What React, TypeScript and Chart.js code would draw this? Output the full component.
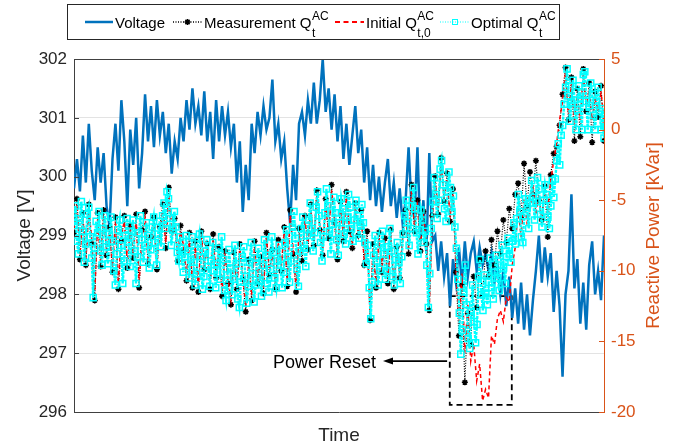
import React, { useEffect, useRef } from 'react';
import { Chart, registerables } from 'chart.js';

Chart.register(...registerables);

const FONT = '"Liberation Sans", Arial, Helvetica, sans-serif';

// Voltage [V] samples (evenly spaced in time)
const voltage = [
  299.8, 300.3, 299.75, 300.7, 299.9, 300.9, 300.1, 299.6, 300.5, 299.9,
  300.4, 299.5, 299.15, 300.3, 300.9, 300.1, 301.3, 300.6, 299.5, 300.8,
  300.2, 301.0, 299.8, 300.4, 301.4, 300.6, 301.2, 300.5, 301.3, 300.7,
  301.1, 300.4, 300.9, 300.05, 300.6, 300.3, 301.0, 300.6, 301.3, 300.8,
  301.5, 300.9, 301.2, 300.7, 301.45, 300.6, 301.1, 300.3, 301.3, 300.6,
  301.2, 300.7, 301.1, 300.5, 300.9, 299.9, 300.6, 299.4, 300.2, 299.6,
  300.9, 300.4, 301.1, 300.7, 301.2, 300.8, 301.0, 301.65, 300.6, 300.9,
  300.3, 300.6, 299.8, 299.2, 300.2, 299.6, 300.9, 301.1, 300.7, 301.3,
  300.9, 301.6, 300.9, 301.3, 302.0, 301.1, 301.5, 300.8, 301.4, 300.6,
  301.2, 300.3, 300.9, 300.2, 300.7, 301.2, 300.4, 300.8, 299.9, 300.5,
  299.6, 300.2, 299.5, 300.0, 299.4, 299.9, 300.3, 299.5, 299.9, 299.3,
  299.8, 299.2, 299.6, 300.5, 299.5, 299.3, 300.5, 298.9, 299.6, 298.7,
  300.4, 298.9, 299.0, 298.4, 298.9, 298.3, 298.7, 297.8, 298.6, 298.2,
  298.8, 298.2, 298.9, 298.3, 298.7, 298.9, 298.4, 298.8, 298.5, 298.7,
  298.4, 298.7, 298.2, 298.5, 298.0, 298.4, 297.8, 298.3, 297.6, 298.1,
  297.5, 298.2, 297.4, 298.0, 297.3, 297.9, 298.4, 299.0, 298.2, 298.8,
  298.3, 298.7, 297.7, 298.4, 297.8, 296.6, 298.0, 298.4, 299.7, 298.1,
  298.6, 297.5, 298.2, 297.4, 298.5, 298.9, 298.0, 298.4, 297.9, 299.0,
];

// Measurement Q_t^AC [kVar]
const measQ = [
  -7.3, -4.9, -9.2, -5.9, -9.6, -5.3, -8.1, -12.1, -5.9, -9.7,
  -5.7, -8.9, -6.9, -10.1, -6.2, -11.3, -7.9, -6.1, -9.8, -6.8,
  -9.1, -6.0, -11.2, -7.1, -5.8, -9.5, -7.6, -6.2, -9.9, -6.9,
  -5.3, -8.4, -4.1, -7.2, -6.3, -9.3, -6.8, -8.6, -10.7, -7.3,
  -11.2, -7.9, -11.5, -7.2, -9.9, -8.1, -11.3, -7.4, -10.5, -8.3,
  -11.8, -8.6, -10.9, -12.4, -8.7, -11.3, -8.1, -10.6, -12.9, -9.2,
  -12.1, -7.9, -10.9, -9.0, -11.6, -7.3, -10.3, -8.5, -11.3, -7.8,
  -10.0, -6.9, -11.1, -5.7, -8.8, -11.5, -7.0, -9.3, -6.1, -8.5,
  -5.3, -8.2, -4.3, -7.1, -8.9, -4.9, -7.7, -3.9, -6.6, -9.2,
  -5.1, -7.9, -4.4, -7.2, -8.4, -5.2, -7.5, -5.7, -9.6, -7.2,
  -13.5, -8.1, -11.2, -7.3, -10.1, -7.7, -10.9, -7.1, -11.3, -8.3,
  -10.5, -7.3, -5.7, -8.8, -3.9, -7.2, -5.0, -8.6, -5.8, -8.1,
  -12.8, -6.1, -3.3, -6.0, -2.0, -5.1, -3.1, -6.5, -4.2, -10.1,
  -14.6, -11.0, -17.9, -13.0, -15.2, -10.4, -12.6, -9.2, -11.8, -8.6,
  -10.4, -7.8, -9.6, -7.2, -8.8, -6.4, -8.0, -5.6, -7.0, -4.6,
  -3.8, -6.2, -2.4, -5.4, -3.0, -4.6, -2.2, -5.0, -6.4, -4.0,
  -7.6, -3.2, -1.7, -1.2, 0.3, 2.5, 4.4, 0.7, 3.7, -0.8,
  2.9, -0.5, 4.3, 1.3, 3.3, -0.9, 2.7, 0.9, 3.1, -0.8,
];

// Initial Q_{t,0}^AC [kVar]
const initQ = [
  -7.1, -5.3, -8.8, -6.2, -9.2, -5.7, -7.7, -11.7, -6.3, -9.3,
  -6.1, -8.5, -7.3, -9.7, -6.6, -10.9, -7.5, -6.5, -9.4, -7.1,
  -8.7, -6.4, -10.8, -7.5, -6.2, -9.1, -8.0, -6.6, -9.5, -7.3,
  -5.7, -8.0, -4.5, -7.6, -6.7, -8.9, -7.2, -8.2, -10.3, -7.7,
  -10.8, -8.3, -11.1, -7.6, -9.5, -8.5, -10.9, -7.8, -10.1, -8.7,
  -11.4, -9.0, -10.5, -12.0, -9.1, -10.9, -8.5, -10.2, -12.5, -9.6,
  -11.7, -8.3, -10.5, -9.4, -11.2, -7.7, -9.9, -8.9, -10.9, -8.2,
  -9.6, -7.3, -10.7, -6.1, -8.4, -11.1, -7.4, -8.9, -6.5, -8.1,
  -5.7, -7.8, -4.7, -6.7, -8.5, -5.3, -7.3, -4.3, -6.4, -8.8,
  -5.5, -7.5, -4.8, -6.8, -8.0, -5.6, -7.1, -6.1, -9.2, -7.6,
  -13.1, -8.5, -10.8, -7.7, -9.7, -8.1, -10.5, -7.5, -10.9, -8.7,
  -10.1, -7.7, -6.1, -8.4, -4.3, -6.8, -5.4, -8.2, -6.2, -7.7,
  -12.4, -6.5, -3.7, -5.6, -2.4, -4.7, -3.5, -6.1, -4.6, -9.7,
  -13.6, -10.2, -15.8, -12.4, -16.4, -15.2, -17.8, -16.6, -19.2, -18.4,
  -19.0, -14.6, -15.2, -13.4, -12.8, -13.6, -11.9, -12.2, -9.6, -8.4,
  -5.6, -7.6, -4.9, -6.6, -5.8, -3.9, -6.0, -4.6, -6.5, -4.2,
  -5.6, -3.7, -2.2, -1.0, 0.7, 2.0, 4.1, 1.1, 3.2, 0.7,
  2.4, 0.7, 4.0, 1.7, 2.8, 0.7, 2.2, 1.3, 2.6, 0.7,
];

// Optimal Q_t^AC [kVar] (denser sampling)
const optQ = [
  -6.8, -5.4, -7.9, -8.8, -6.3, -5.1, -7.2, -9.4, -8.1, -6.0, -5.5, -7.6, -9.1, -11.9, -8.4, -6.5, -7.3, -5.8, -8.6, -9.6,
  -7.0, -6.1, -8.3, -9.5, -7.4, -6.2, -7.9, -10.0, -11.0, -8.8, -7.1, -6.4, -8.2, -10.9, -9.3, -7.5, -6.3, -8.0, -9.7, -7.2,
  -6.4, -8.6, -10.9, -9.0, -7.3, -6.1, -7.8, -9.4, -8.2, -6.6, -7.5, -9.8, -8.5, -6.9, -6.2, -8.0, -9.6, -7.4, -6.5, -8.3,
  -6.1, -5.2, -7.0, -4.4, -4.9, -6.3, -8.2, -7.1, -5.8, -6.9, -8.7, -9.3, -7.6, -8.4, -10.1, -9.0, -7.5, -8.6, -10.5, -9.2,
  -7.6, -9.4, -11.0, -10.2, -8.1, -7.4, -9.0, -11.3, -10.4, -8.6, -7.8, -9.7, -11.1, -9.3, -8.0, -10.0, -11.2, -9.5, -8.4, -10.6,
  -7.6, -9.2, -11.4, -12.1, -10.3, -8.5, -9.8, -11.7, -10.6, -8.2, -9.5, -12.0, -12.6, -10.8, -9.0, -8.3, -10.4, -12.3, -11.1, -9.4,
  -8.0, -10.2, -12.2, -11.0, -9.1, -8.4, -10.7, -11.8, -9.6, -7.8, -8.9, -10.9, -11.5, -9.9, -7.6, -8.7, -10.5, -11.2, -9.3, -8.2,
  -9.6, -11.2, -10.1, -8.0, -7.1, -9.0, -10.8, -9.3, -6.9, -5.8, -7.7, -9.9, -11.1, -8.6, -7.0, -6.2, -8.4, -9.7, -7.5, -6.4,
  -5.2, -7.0, -8.6, -7.3, -5.5, -4.4, -6.1, -8.0, -9.3, -7.6, -5.9, -4.2, -5.4, -7.2, -8.8, -6.7, -4.8, -5.9, -7.8, -8.9,
  -6.6, -4.9, -5.6, -7.4, -8.1, -6.2, -4.6, -5.5, -7.0, -7.9, -6.4, -5.0, -6.1, -7.7, -6.8, -5.3, -6.6, -8.0, -9.5, -8.2,
  -11.2, -13.4, -10.8, -8.9, -7.5, -9.3, -11.0, -9.9, -8.1, -7.2, -8.8, -10.6, -10.0, -8.3, -7.0, -8.6, -10.4, -11.0, -9.2, -8.0,
  -9.4, -10.9, -9.0, -7.4, -6.1, -5.0, -6.6, -8.2, -7.0, -5.4, -4.1, -5.6, -7.3, -8.8, -7.1, -5.7, -6.4, -8.0, -7.2, -9.6,
  -12.6, -10.2, -7.0, -5.1, -3.4, -4.6, -6.3, -5.0, -2.8, -2.2, -3.9, -5.6, -6.5, -4.4, -3.0, -4.1, -5.8, -4.7, -6.9, -8.4,
  -10.6, -13.0, -15.9, -14.2, -11.5, -9.6, -12.4, -14.8, -15.5, -12.9, -11.0, -13.6, -15.1, -13.8, -10.4, -9.2, -11.7, -12.8, -10.3, -11.6,
  -12.4, -10.8, -9.1, -11.2, -12.0, -10.1, -8.9, -10.5, -11.4, -9.6, -8.2, -9.8, -10.9, -9.0, -7.7, -8.8, -9.4, -7.9, -6.6, -8.1,
  -6.3, -4.6, -5.8, -7.6, -8.0, -6.1, -4.9, -5.5, -7.0, -5.2, -3.6, -4.8, -6.4, -5.1, -3.4, -4.2, -6.0, -6.9, -5.0, -3.9,
  -4.6, -6.2, -7.0, -5.4, -3.6, -4.8, -3.5, -2.2, -1.0, -2.5, -0.4, 0.3, 1.8, 3.0, 4.3, 2.4, 0.6, 1.9, 3.5, 2.1,
  0.0, 1.4, 3.1, 2.2, 0.0, 3.9, 4.1, 2.0, 0.0, 1.7, 3.3, 2.5, 1.0, 0.0, 2.0, 3.0, 1.3, 0.0, 1.5, -0.6,
];

const voltTicks = [296, 297, 298, 299, 300, 301, 302];
const qTicks = [-20, -15, -10, -5, 0, 5];

// annotation anchors in data units (time fraction, kVar / V)
const resetBox = { t0: 0.709, t1: 0.826, qTop: -11.8, qBottom: -19.5 };
const resetLabel = { t: 0.3755, v: 296.75, text: 'Power Reset' };
const resetArrow = { t0: 0.704, t1: 0.583, v: 296.865 };

const toXY = (arr: number[]) => arr.map((v, i) => ({ x: i / (arr.length - 1), y: v }));

const DARK = '#262626';
const AXIS = '#404040';
const ORANGE = '#D95319';
const BLUE = '#0072BD';

function drawStar(ctx: CanvasRenderingContext2D, x: number, y: number, r: number) {
  ctx.beginPath();
  ctx.moveTo(x - r, y); ctx.lineTo(x + r, y);
  ctx.moveTo(x, y - r); ctx.lineTo(x, y + r);
  const d = r * 0.707;
  ctx.moveTo(x - d, y - d); ctx.lineTo(x + d, y + d);
  ctx.moveTo(x - d, y + d); ctx.lineTo(x + d, y - d);
  ctx.stroke();
}

function drawLegend(ctx: CanvasRenderingContext2D) {
  ctx.save();
  ctx.fillStyle = '#fff';
  ctx.fillRect(67, 4, 492, 35);
  ctx.strokeStyle = DARK;
  ctx.lineWidth = 1;
  ctx.setLineDash([]);
  ctx.strokeRect(67.5, 4.5, 492, 35);

  const yLine = 22;
  const yBase = 28;
  const ySup = 19.5;
  const ySub = 36.5;
  const main = `15px ${FONT}`;
  const small = `12px ${FONT}`;

  const seg = (x0: number, x1: number, color: string, w: number, dash: number[]) => {
    ctx.save();
    ctx.strokeStyle = color;
    ctx.lineWidth = w;
    ctx.setLineDash(dash);
    ctx.beginPath();
    ctx.moveTo(x0, yLine);
    ctx.lineTo(x1, yLine);
    ctx.stroke();
    ctx.restore();
  };
  const label = (text: string, x: number, sup?: string, sub?: string) => {
    ctx.fillStyle = '#000';
    ctx.textAlign = 'left';
    ctx.textBaseline = 'alphabetic';
    ctx.font = main;
    ctx.fillText(text, x, yBase);
    const w = ctx.measureText(text).width;
    ctx.font = small;
    if (sup) ctx.fillText(sup, x + w + 0.5, ySup);
    if (sub) ctx.fillText(sub, x + w + 0.5, ySub);
  };

  seg(85, 113, BLUE, 2.5, []);
  label('Voltage', 115);

  seg(173, 202, '#000', 1.3, [1, 1.5]);
  ctx.strokeStyle = '#000';
  ctx.lineWidth = 1.5;
  ctx.setLineDash([]);
  drawStar(ctx, 187.5, yLine, 3);
  label('Measurement Q', 204, 'AC', 't');

  seg(335, 364, '#ff0000', 2, [5, 3.5]);
  label('Initial Q', 366, 'AC', 't,0');

  seg(440, 469, '#00ffff', 1, [1, 1.5]);
  ctx.strokeStyle = '#00ffff';
  ctx.lineWidth = 1;
  ctx.setLineDash([]);
  ctx.strokeRect(452.5, 19.5, 5, 5);
  label('Optimal Q', 471, 'AC', 't');
  ctx.restore();
}

const overlayPlugin = {
  id: 'overlay',
  beforeDatasetsDraw(chart: any) {
    const { ctx, scales } = chart;
    const x = scales.x;
    const y1 = scales.y1;
    const l = x.getPixelForValue(resetBox.t0);
    const r = x.getPixelForValue(resetBox.t1);
    const t = y1.getPixelForValue(resetBox.qTop);
    const b = y1.getPixelForValue(resetBox.qBottom);
    ctx.save();
    ctx.strokeStyle = '#000';
    ctx.lineWidth = 1.8;
    ctx.setLineDash([6, 4]);
    ctx.strokeRect(l, t, r - l, b - t);
    ctx.restore();
  },
  afterDraw(chart: any) {
    const { ctx, chartArea, scales } = chart;
    const { left, right, top, bottom } = chartArea;
    ctx.save();
    ctx.strokeStyle = AXIS;
    ctx.lineWidth = 1;
    ctx.setLineDash([]);
    ctx.beginPath();
    ctx.moveTo(left, top + 0.5);
    ctx.lineTo(right, top + 0.5);
    ctx.stroke();
    voltTicks.forEach((v) => {
      const py = Math.round(scales.y.getPixelForValue(v)) + 0.5;
      ctx.beginPath();
      ctx.moveTo(left, py);
      ctx.lineTo(left + 5, py);
      ctx.stroke();
    });
    ctx.strokeStyle = ORANGE;
    qTicks.forEach((q) => {
      const py = Math.round(scales.y1.getPixelForValue(q)) + 0.5;
      ctx.beginPath();
      ctx.moveTo(right - 5, py);
      ctx.lineTo(right, py);
      ctx.stroke();
    });
    ctx.save();
    ctx.translate(653.5, (top + bottom) / 2);
    ctx.rotate(-Math.PI / 2);
    ctx.fillStyle = ORANGE;
    ctx.font = `19px ${FONT}`;
    ctx.textAlign = 'center';
    ctx.textBaseline = 'middle';
    ctx.fillText('Reactive Power [kVar]', 0, 0);
    ctx.restore();
    ctx.fillStyle = '#000';
    ctx.font = `18px ${FONT}`;
    ctx.textAlign = 'left';
    ctx.textBaseline = 'alphabetic';
    ctx.fillText(resetLabel.text, scales.x.getPixelForValue(resetLabel.t), scales.y.getPixelForValue(resetLabel.v));
    const ax0 = scales.x.getPixelForValue(resetArrow.t0);
    const ax1 = scales.x.getPixelForValue(resetArrow.t1);
    const ay = scales.y.getPixelForValue(resetArrow.v);
    ctx.strokeStyle = '#000';
    ctx.lineWidth = 1.6;
    ctx.beginPath();
    ctx.moveTo(ax0, ay);
    ctx.lineTo(ax1 + 6, ay);
    ctx.stroke();
    ctx.beginPath();
    ctx.moveTo(ax1, ay);
    ctx.lineTo(ax1 + 10, ay - 3.5);
    ctx.lineTo(ax1 + 10, ay + 3.5);
    ctx.closePath();
    ctx.fillStyle = '#000';
    ctx.fill();
    ctx.restore();
    drawLegend(ctx);
  },
};

export default function App() {
  const ref = useRef<HTMLCanvasElement | null>(null);
  useEffect(() => {
    if (!ref.current) return;
    const chart = new Chart(ref.current, {
      type: 'line',
      data: {
        datasets: [
          {
            label: 'Optimal',
            data: toXY(optQ),
            yAxisID: 'y1',
            borderColor: '#00ffff',
            borderWidth: 2.4,
            borderDash: [3, 1],
            pointStyle: 'rect',
            pointRadius: 4.3,
            pointBorderColor: '#00ffff',
            pointBackgroundColor: 'rgba(0,0,0,0)',
            pointBorderWidth: 1.5,
            tension: 0,
          },
          {
            label: 'Initial',
            data: toXY(initQ),
            yAxisID: 'y1',
            borderColor: '#ff0000',
            borderWidth: 1.5,
            borderDash: [4, 3],
            pointRadius: 0,
            tension: 0,
          },
          {
            label: 'Measurement',
            data: toXY(measQ),
            yAxisID: 'y1',
            borderColor: '#000',
            borderWidth: 1.2,
            borderDash: [1, 1.5],
            pointStyle: 'star',
            pointRadius: 3,
            pointBorderColor: '#000',
            pointBorderWidth: 1.5,
            tension: 0,
          },
          {
            label: 'Voltage',
            data: toXY(voltage),
            yAxisID: 'y',
            borderColor: BLUE,
            borderWidth: 2.5,
            pointRadius: 0,
            tension: 0,
          },
        ],
      },
      options: {
        responsive: false,
        animation: false,
        events: [],
        layout: { padding: { top: 59, left: 0, right: 0, bottom: 0 } },
        plugins: { legend: { display: false }, tooltip: { enabled: false } },
        scales: {
          x: {
            type: 'linear',
            min: 0,
            max: 1,
            ticks: { display: false },
            grid: { display: false, drawTicks: false },
            border: { color: AXIS, width: 1 },
            title: {
              display: true,
              text: 'Time',
              color: DARK,
              font: { family: FONT, size: 19 },
              padding: { top: 0, bottom: 0 },
            },
            afterFit: (s: any) => { s.height = 35; },
          },
          y: {
            position: 'left',
            min: 296,
            max: 302,
            afterBuildTicks: (s: any) => { s.ticks = voltTicks.map((v) => ({ value: v })); },
            ticks: { color: DARK, font: { family: FONT, size: 17 }, padding: 7 },
            grid: { color: '#e3e3e3', drawTicks: false },
            border: { color: AXIS, width: 1 },
            title: {
              display: true,
              text: 'Voltage [V]',
              color: DARK,
              font: { family: FONT, size: 19 },
              padding: { top: 13.6, bottom: 0 },
            },
            afterFit: (s: any) => { s.width = 74; },
          },
          y1: {
            position: 'right',
            min: -20,
            max: 5,
            afterBuildTicks: (s: any) => { s.ticks = qTicks.map((v) => ({ value: v })); },
            ticks: { color: ORANGE, font: { family: FONT, size: 17 }, padding: 7 },
            grid: { display: false, drawTicks: false },
            border: { color: ORANGE, width: 1 },
            afterFit: (s: any) => { s.width = 78; },
          },
        },
      },
      plugins: [overlayPlugin],
    } as any);
    return () => chart.destroy();
  }, []);
  return (
    <div style={{ position: 'fixed', left: 0, top: 0, width: 682, height: 447, background: '#fff' }}>
      <canvas ref={ref} width={682} height={447} />
    </div>
  );
}
